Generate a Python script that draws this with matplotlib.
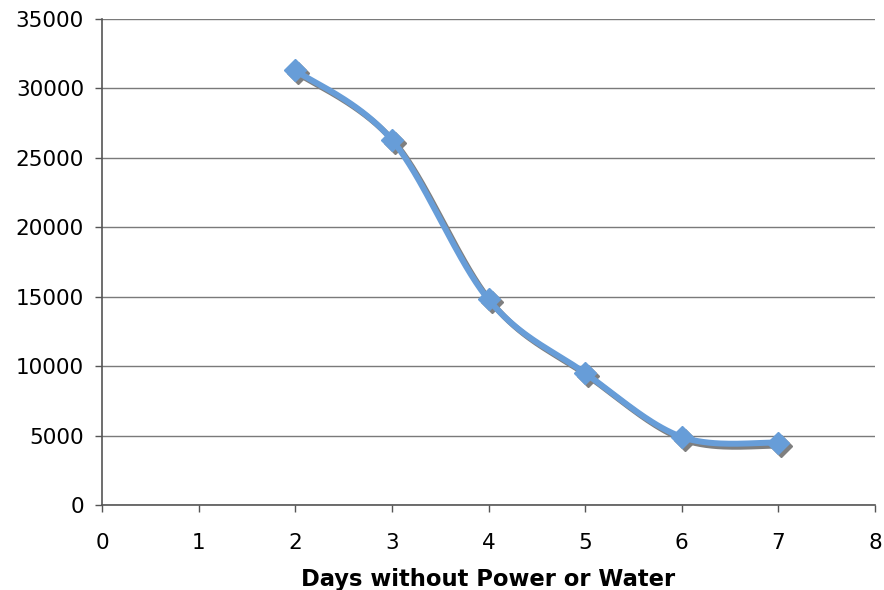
import numpy as np
import matplotlib
matplotlib.use("Agg")
import matplotlib.pyplot as plt
import matplotlib.transforms as mtransforms

days = [2, 3, 4, 5, 6, 7]
values = [31300, 26300, 14800, 9500, 4900, 4500]
x_ticks = [0, 1, 2, 3, 4, 5, 6, 7, 8]
y_ticks = [0, 5000, 10000, 15000, 20000, 25000, 30000, 35000]
x_label = "Days without Power or Water"

LINE_COLOR = "#679dd8"
SHADOW = "#7f7f7f"


def smooth(xs, ys, n=40):
    # catmull-rom style bezier, the way excel smooths lines
    px = [xs[0]] + list(xs) + [xs[-1]]
    py = [ys[0]] + list(ys) + [ys[-1]]
    out_x, out_y = [], []
    t = np.linspace(0, 1, n)
    for i in range(1, len(px) - 2):
        p0 = np.array([px[i], py[i]], float)
        p3 = np.array([px[i + 1], py[i + 1]], float)
        p1 = p0 + (np.array([px[i + 1], py[i + 1]]) - np.array([px[i - 1], py[i - 1]])) / 6
        p2 = p3 - (np.array([px[i + 2], py[i + 2]]) - np.array([px[i], py[i]])) / 6
        b = ((1 - t) ** 3)[:, None] * p0 + (3 * (1 - t) ** 2 * t)[:, None] * p1 \
            + (3 * (1 - t) * t ** 2)[:, None] * p2 + (t ** 3)[:, None] * p3
        out_x.extend(b[:, 0])
        out_y.extend(b[:, 1])
    return out_x, out_y


fig = plt.figure(figsize=(8.84, 5.90), dpi=100)
ax = fig.add_axes([102 / 884, 85 / 590, 773 / 884, 486 / 590])

sx, sy = smooth(days, values)
shadow_tr = mtransforms.offset_copy(ax.transData, fig=fig, x=3, y=-3, units="dots")
ax.plot(sx, sy, color=SHADOW, lw=4.3, transform=shadow_tr, solid_capstyle="round", zorder=3)
ax.plot(days, values, linestyle="none", marker="D", ms=11, color=SHADOW,
        transform=shadow_tr, zorder=3)
ax.plot(sx, sy, color=LINE_COLOR, lw=4.3, solid_capstyle="round", zorder=4)
ax.plot(days, values, linestyle="none", marker="D", ms=11, color=LINE_COLOR, zorder=5)

ax.set_xlim(0, 8)
ax.set_ylim(0, 35000)
ax.set_xticks(x_ticks)
ax.set_yticks(y_ticks)
ax.yaxis.grid(True, color="#7a7a7a", lw=1)
ax.set_axisbelow(True)
for s in ["top", "right"]:
    ax.spines[s].set_visible(False)
for s in ["left", "bottom"]:
    ax.spines[s].set_color("#555555")
    ax.spines[s].set_linewidth(1.2)
ax.tick_params(axis="both", labelsize=15.5, color="#555555", length=5, width=1)
ax.tick_params(axis="y", pad=8)
ax.tick_params(axis="x", pad=15)
ax.set_xlabel(x_label, fontsize=16.3, fontweight="bold", labelpad=11)

fig.savefig("out.png", dpi=100)
